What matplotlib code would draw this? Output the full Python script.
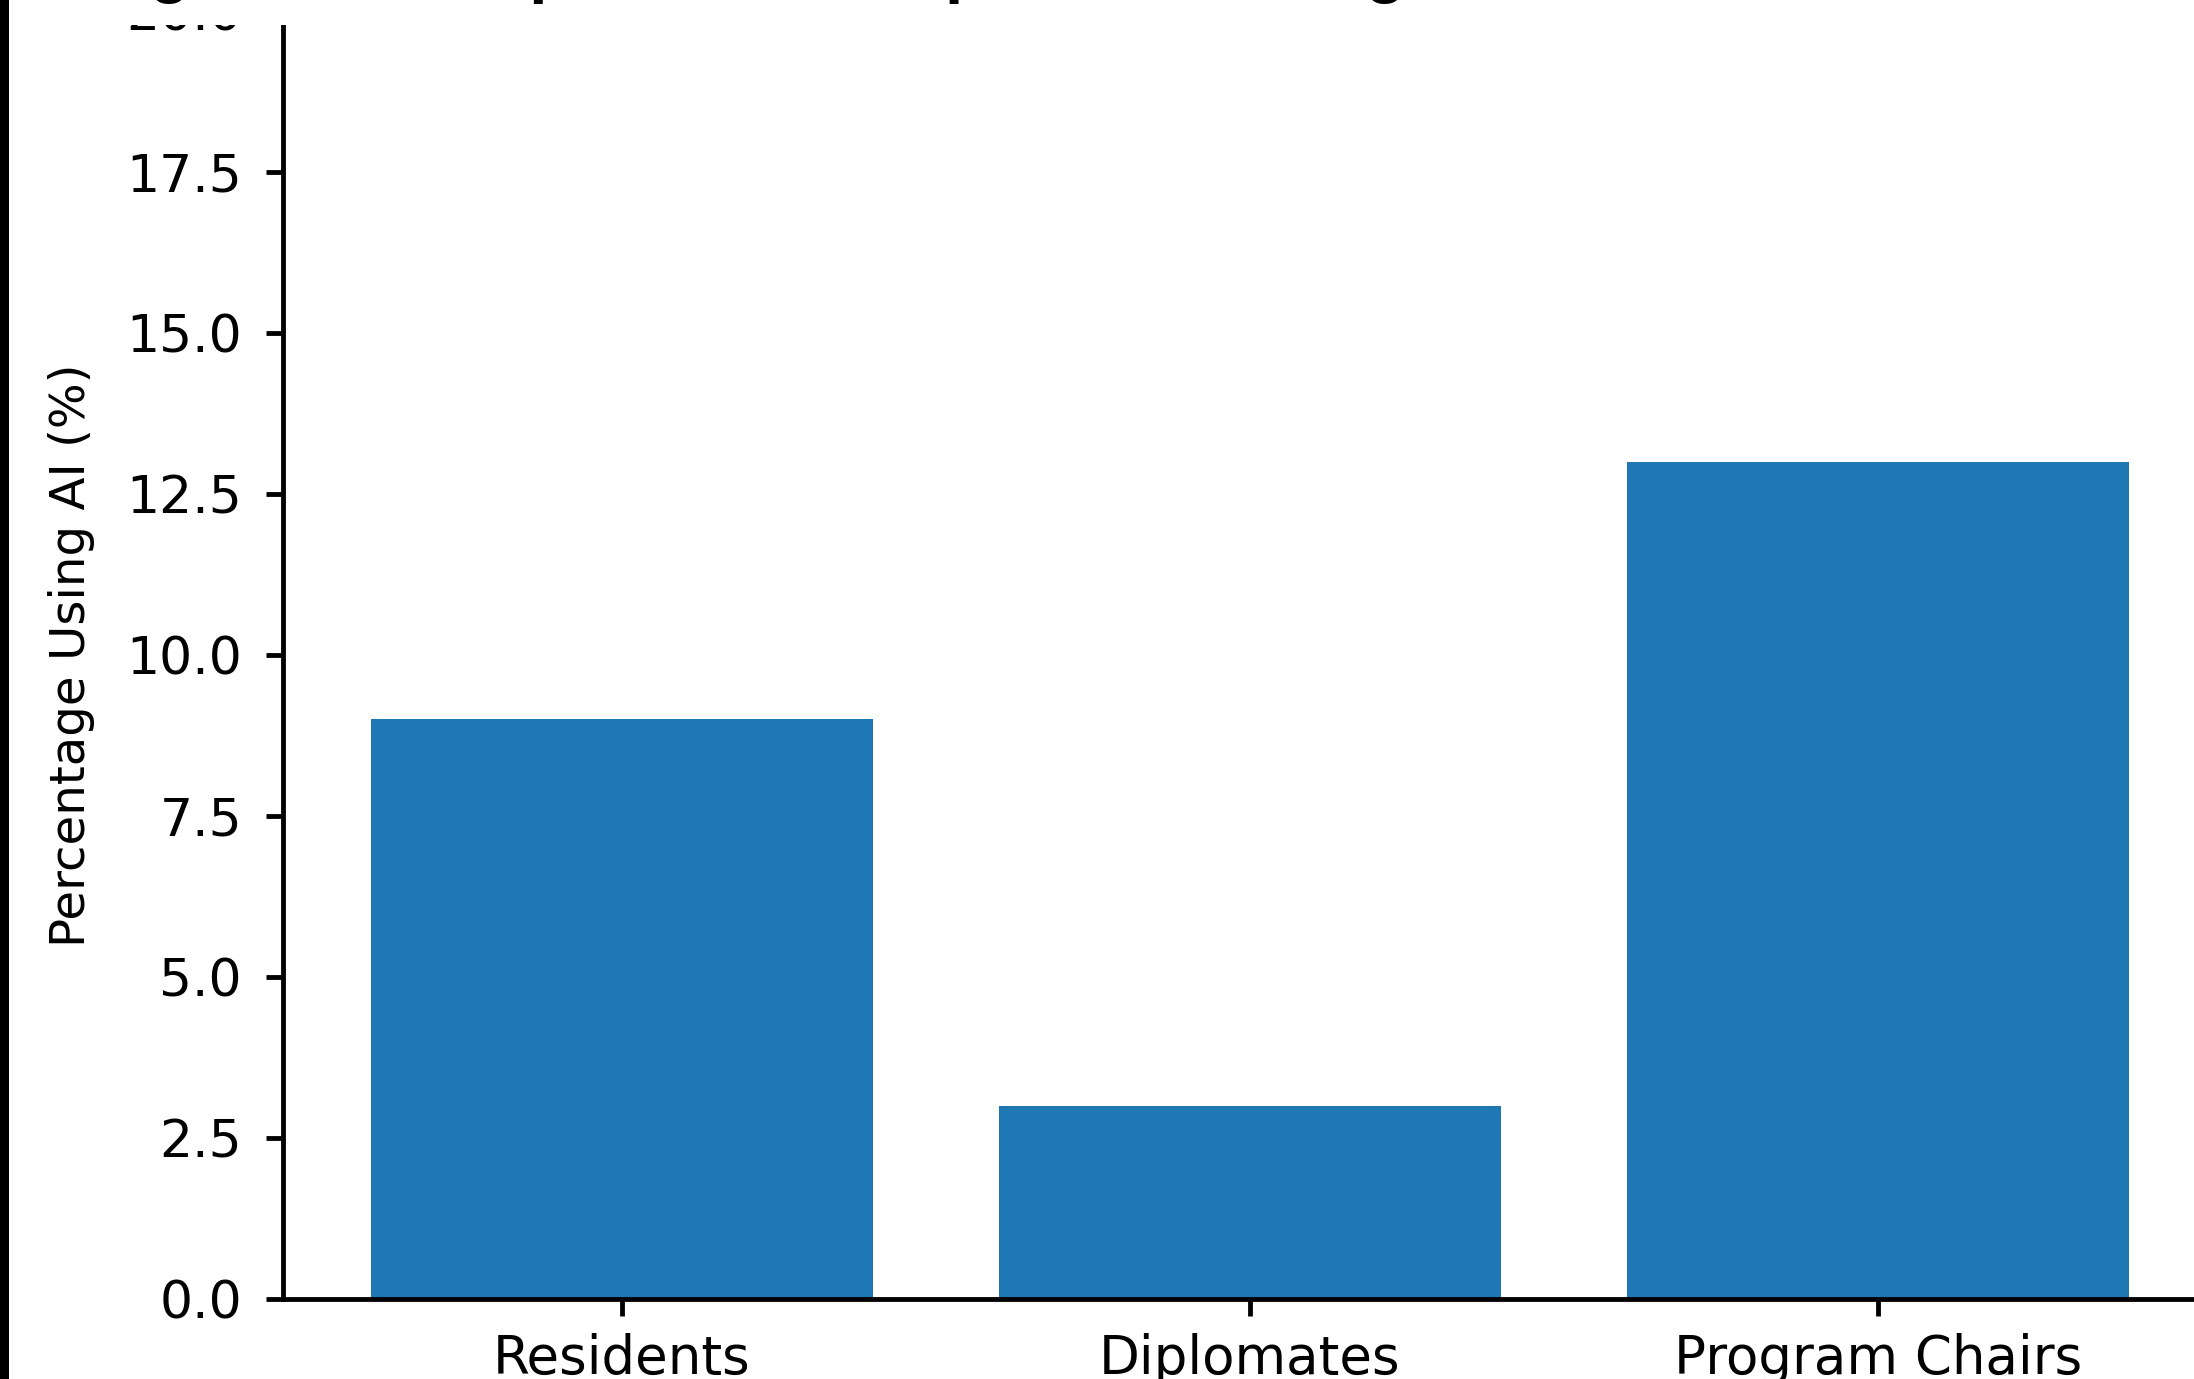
import matplotlib
matplotlib.use("Agg")
import matplotlib.pyplot as plt
from matplotlib.patches import Rectangle

categories = ["Residents", "Diplomates", "Program Chairs"]
values = [9, 3, 13]
yticks = [0.0, 2.5, 5.0, 7.5, 10.0, 12.5, 15.0, 17.5, 20.0]
ylabel = "Percentage Using AI (%)"
title = "Figure 1: Comparison of Reported AI Usage"

W, H, DPI = 2194, 1379, 347
fig = plt.figure(figsize=(W / DPI, H / DPI), dpi=DPI)
plt.rcParams["font.family"] = ["DejaVu Sans"]

ax = fig.add_axes([283 / W, 80 / H, (2217 - 283) / W, 1288 / H])
ax.bar(categories, values, color="#1f77b4", width=0.8)
ax.set_ylim(0, 20)
ax.set_yticks(yticks)
ax.set_yticklabels([f"{t:.1f}" for t in yticks], fontsize=10.8)
ax.set_ylabel(ylabel, fontsize=10, labelpad=6.5)
ax.tick_params(axis="x", labelsize=11, width=1.0)
ax.tick_params(axis="y", width=1.0, pad=5)
for s in ax.spines.values():
    s.set_linewidth(1.0)

# white band at the top (overlay from screenshot) and left dark edge
fig.patches.append(Rectangle((0, 1 - 25 / H), 1, 25 / H, transform=fig.transFigure,
                             facecolor="white", edgecolor="none", zorder=5))
fig.patches.append(Rectangle((0, 0), 9 / W, 1, transform=fig.transFigure,
                             facecolor="black", edgecolor="none", zorder=7))
fig.text(92 / W, 1 + 9 / H, title, ha="left", va="baseline", fontsize=13.5,
         fontweight="bold", family=["Liberation Sans", "DejaVu Sans"], zorder=6)

fig.savefig("out.png", dpi=DPI)
